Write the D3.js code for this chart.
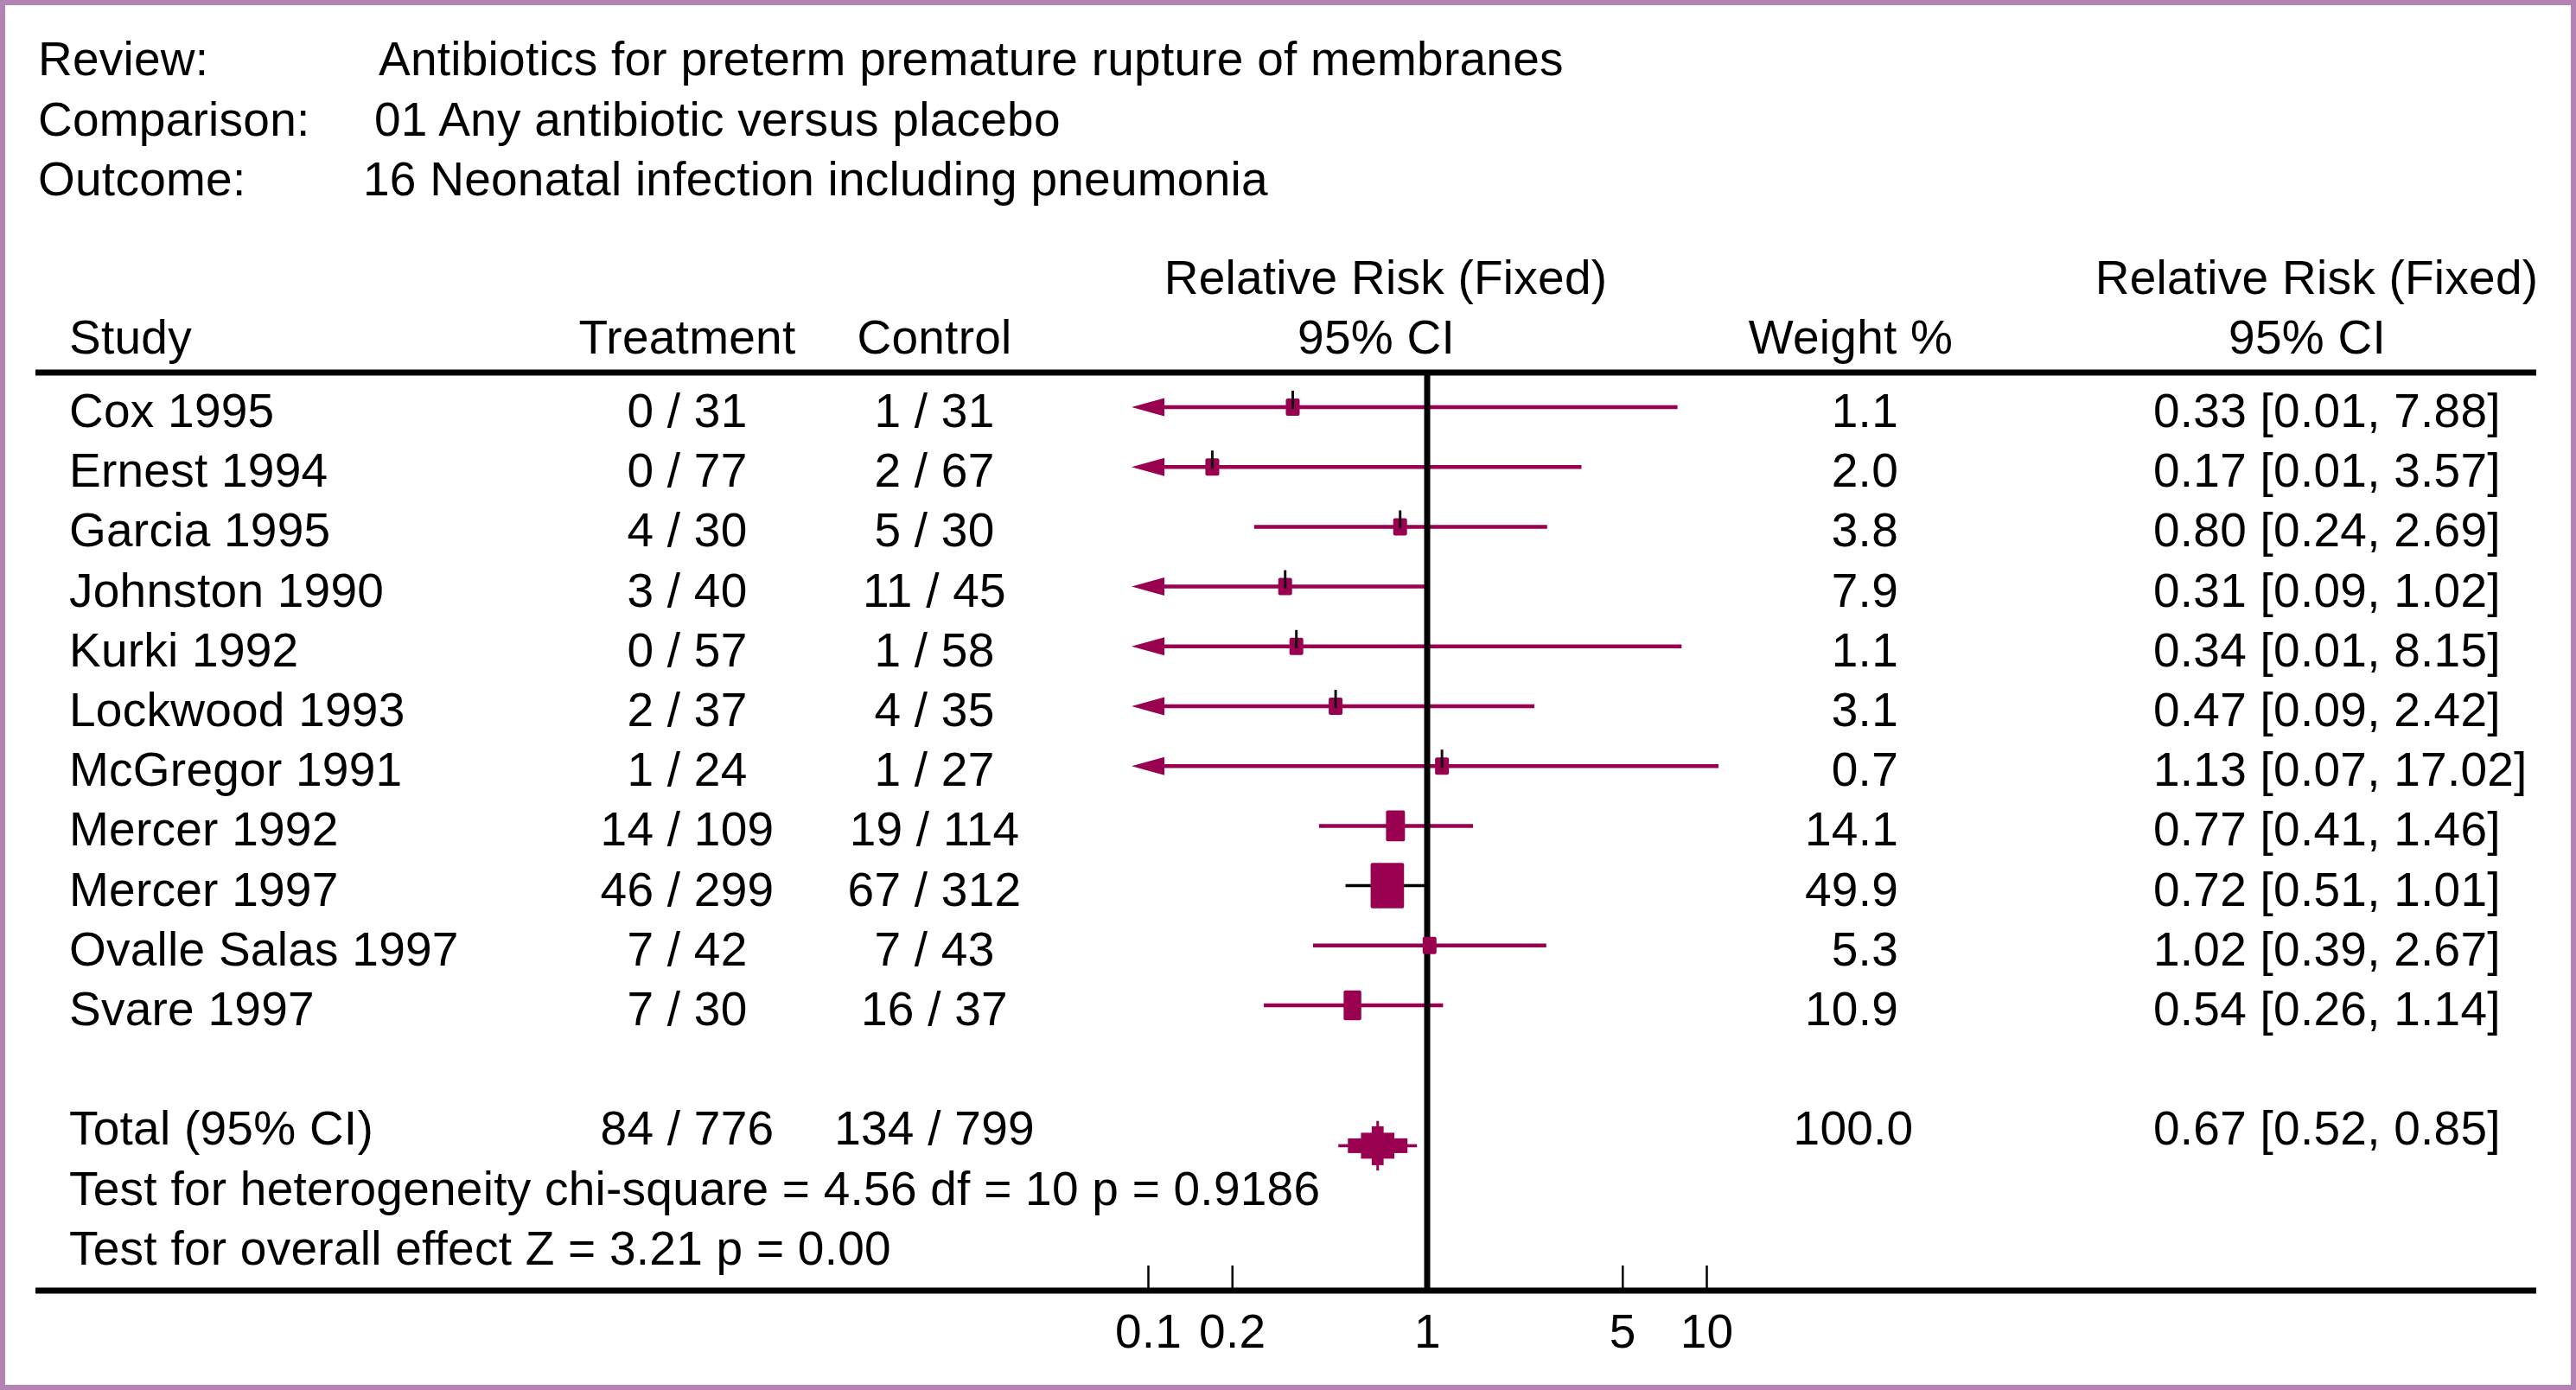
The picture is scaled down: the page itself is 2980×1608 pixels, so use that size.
<!DOCTYPE html>
<html>
<head>
<meta charset="utf-8">
<script src="https://cdn.jsdelivr.net/npm/d3@7"></script>
<style>
body { margin: 0; background: #fff; }
text { font-family: "Liberation Sans", Arial, Helvetica, sans-serif; font-size: 55px; fill: #000; letter-spacing: 0.25px; }
</style>
</head>
<body>
<script>
// header of the review
var headerLabels = ["Review:", "Comparison:", "Outcome:"];
var headerValues = ["Antibiotics for preterm premature rupture of membranes",
                    "01 Any antibiotic versus placebo",
                    "16 Neonatal infection including pneumonia"];

// one entry per trial
var studies = ["Cox 1995", "Ernest 1994", "Garcia 1995", "Johnston 1990", "Kurki 1992",
               "Lockwood 1993", "McGregor 1991", "Mercer 1992", "Mercer 1997",
               "Ovalle Salas 1997", "Svare 1997"];
var treatEvents = [0, 0, 4, 3, 0, 2, 1, 14, 46, 7, 7];
var treatTotal  = [31, 77, 30, 40, 57, 37, 24, 109, 299, 42, 30];
var ctrlEvents  = [1, 2, 5, 11, 1, 4, 1, 19, 67, 7, 16];
var ctrlTotal   = [31, 67, 30, 45, 58, 35, 27, 114, 312, 43, 37];
var weights = [1.1, 2.0, 3.8, 7.9, 1.1, 3.1, 0.7, 14.1, 49.9, 5.3, 10.9];
var rr      = [0.33, 0.17, 0.80, 0.31, 0.34, 0.47, 1.13, 0.77, 0.72, 1.02, 0.54];
var rrLow   = [0.01, 0.01, 0.24, 0.09, 0.01, 0.09, 0.07, 0.41, 0.51, 0.39, 0.26];
var rrHigh  = [7.88, 3.57, 2.69, 1.02, 8.15, 2.42, 17.02, 1.46, 1.01, 2.67, 1.14];

// pooled result
var totalLabel = "Total (95% CI)";
var totalTreat = [84, 776];
var totalCtrl = [134, 799];
var totalWeight = 100.0;
var totalRR = [0.67, 0.52, 0.85];
var testLines = ["Test for heterogeneity chi-square = 4.56 df = 10 p = 0.9186",
                 "Test for overall effect Z = 3.21 p = 0.00"];

var tickValues = [0.1, 0.2, 1, 5, 10];

var plum = "#990050";
var f2 = d3.format(".2f");
var f1 = d3.format(".1f");

var svg = d3.select("body").append("svg")
            .attr("width", 2980)
            .attr("height", 1608);

svg.append("rect")
   .attr("x", 3).attr("y", 3)
   .attr("width", 2974).attr("height", 1602)
   .attr("fill", "#fff")
   .attr("stroke", "#b384b3")
   .attr("stroke-width", 6);

var x = d3.scaleLog().domain([0.1, 10]).range([1328, 1974]);
var row = d3.scaleLinear().domain([0, 1]).range([471, 540.2]);
var boxW = d3.scaleLinear().domain([0, 8, 10, 50]).range([16, 16, 20, 38.7]).clamp(true);
var boxH = d3.scaleLinear().domain([0, 8, 10, 50]).range([20, 20, 34, 52.5]).clamp(true);

// review header
svg.selectAll(".hlab").data(headerLabels).enter().append("text")
   .attr("x", 44)
   .attr("y", function(d, i) { return 87.3 + i * 69.4; })
   .text(function(d) { return d; });

var headerX = [438, 433, 420];
svg.selectAll(".hval").data(headerValues).enter().append("text")
   .attr("x", function(d, i) { return headerX[i]; })
   .attr("y", function(d, i) { return 87.3 + i * 69.4; })
   .text(function(d) { return d; });

// column headings
var colHeads = [
  { x: 80, y: 409, a: "start", t: "Study" },
  { x: 795, y: 409, a: "middle", t: "Treatment" },
  { x: 1081, y: 409, a: "middle", t: "Control" },
  { x: 1603, y: 340, a: "middle", t: "Relative Risk (Fixed)" },
  { x: 1592, y: 409, a: "middle", t: "95% CI" },
  { x: 2141, y: 409, a: "middle", t: "Weight %" },
  { x: 2680, y: 340, a: "middle", t: "Relative Risk (Fixed)" },
  { x: 2669, y: 409, a: "middle", t: "95% CI" }
];
svg.selectAll(".chead").data(colHeads).enter().append("text")
   .attr("x", function(d) { return d.x; })
   .attr("y", function(d) { return d.y; })
   .attr("text-anchor", function(d) { return d.a; })
   .text(function(d) { return d.t; });

// rules
svg.append("line").attr("x1", 41).attr("x2", 2934).attr("y1", 431).attr("y2", 431)
   .attr("stroke", "#000").attr("stroke-width", 7);
svg.append("line").attr("x1", 41).attr("x2", 2934).attr("y1", 1493).attr("y2", 1493)
   .attr("stroke", "#000").attr("stroke-width", 7);

// study rows text
var idx = d3.range(studies.length);
function base(i) { return row(i) + 23; }

svg.selectAll(".sname").data(idx).enter().append("text")
   .attr("x", 80).attr("y", base)
   .text(function(i) { return studies[i]; });
svg.selectAll(".streat").data(idx).enter().append("text")
   .attr("x", 795).attr("y", base).attr("text-anchor", "middle")
   .text(function(i) { return treatEvents[i] + " / " + treatTotal[i]; });
svg.selectAll(".sctrl").data(idx).enter().append("text")
   .attr("x", 1081).attr("y", base).attr("text-anchor", "middle")
   .text(function(i) { return ctrlEvents[i] + " / " + ctrlTotal[i]; });
svg.selectAll(".swt").data(idx).enter().append("text")
   .attr("x", 2196).attr("y", base).attr("text-anchor", "end")
   .text(function(i) { return f1(weights[i]); });
svg.selectAll(".srr").data(idx).enter().append("text")
   .attr("x", 2491).attr("y", base)
   .text(function(i) { return f2(rr[i]) + " [" + f2(rrLow[i]) + ", " + f2(rrHigh[i]) + "]"; });

// confidence interval lines
var xMin = x(0.1), xMax = x(10);
var arrowTip = xMin - 19, arrowLen = 38;

svg.selectAll(".ci").data(idx).enter().append("line")
   .attr("x1", function(i) { return rrLow[i] < 0.1 ? arrowTip + arrowLen - 2 : x(rrLow[i]); })
   .attr("x2", function(i) { return Math.min(x(rrHigh[i]), xMax + 14); })
   .attr("y1", function(i) { return row(i); })
   .attr("y2", function(i) { return row(i); })
   .attr("stroke", function(i) { return boxW(weights[i]) > 30 ? "#000" : plum; })
   .attr("stroke-width", function(i) { return boxW(weights[i]) > 30 ? 3.5 : 4.5; });

svg.selectAll(".arrow").data(idx.filter(function(i) { return rrLow[i] < 0.1; })).enter().append("path")
   .attr("d", function(i) {
     var y = row(i);
     return "M" + arrowTip + "," + y + "L" + (arrowTip + arrowLen) + "," + (y - 10.5) +
            "L" + (arrowTip + arrowLen) + "," + (y + 10.5) + "Z";
   })
   .attr("fill", plum);

// line of no effect
svg.append("line").attr("x1", x(1)).attr("x2", x(1)).attr("y1", 431).attr("y2", 1493)
   .attr("stroke", "#000").attr("stroke-width", 7);

// weight boxes
svg.selectAll(".box").data(idx).enter().append("rect")
   .attr("x", function(i) { return x(rr[i]) - boxW(weights[i]) / 2; })
   .attr("y", function(i) { return row(i) - boxH(weights[i]) / 2; })
   .attr("width", function(i) { return boxW(weights[i]); })
   .attr("height", function(i) { return boxH(weights[i]); })
   .attr("rx", 2)
   .attr("fill", plum);

// point marks over the smallest boxes (hidden where they fall on the line of no effect)
svg.selectAll(".pt").data(idx.filter(function(i) { return weights[i] < 8 && Math.abs(x(rr[i]) - x(1)) > 6; })).enter().append("line")
   .attr("x1", function(i) { return x(rr[i]); })
   .attr("x2", function(i) { return x(rr[i]); })
   .attr("y1", function(i) { return row(i) - boxH(weights[i]) / 2 - 9; })
   .attr("y2", function(i) { return row(i) + 2; })
   .attr("stroke", "#111").attr("stroke-width", 3);

// total row
var tBase = row(12) + 23;
svg.append("text").attr("x", 80).attr("y", tBase).text(totalLabel);
svg.append("text").attr("x", 795).attr("y", tBase).attr("text-anchor", "middle")
   .text(totalTreat[0] + " / " + totalTreat[1]);
svg.append("text").attr("x", 1081).attr("y", tBase).attr("text-anchor", "middle")
   .text(totalCtrl[0] + " / " + totalCtrl[1]);
svg.append("text").attr("x", 2144).attr("y", tBase).attr("text-anchor", "middle")
   .text(f1(totalWeight));
svg.append("text").attr("x", 2491).attr("y", tBase)
   .text(f2(totalRR[0]) + " [" + f2(totalRR[1]) + ", " + f2(totalRR[2]) + "]");

// stepped diamond for the pooled estimate
var dy = tBase + 1;
var dLo = x(totalRR[1]), dHi = x(totalRR[2]);
var dMid = (dLo + dHi) / 2, dHalf = (dHi - dLo) / 2;
var steps = [
  { hw: dHalf + 11, hh: 1.8 },
  { hw: 1.5, hh: 28.7 },
  { hw: dHalf, hh: 8.5 },
  { hw: dHalf * 0.56, hh: 15 },
  { hw: dHalf * 0.2, hh: 22.5 }
];
svg.selectAll(".dstep").data(steps).enter().append("rect")
   .attr("x", function(d) { return dMid - d.hw; })
   .attr("y", function(d) { return dy - d.hh; })
   .attr("width", function(d) { return d.hw * 2; })
   .attr("height", function(d) { return d.hh * 2; })
   .attr("fill", plum);

// tests
svg.selectAll(".test").data(testLines).enter().append("text")
   .attr("x", 80)
   .attr("y", function(d, i) { return row(13 + i) + 23; })
   .text(function(d) { return d; });

// axis
var axis = d3.axisBottom(x)
             .tickValues(tickValues)
             .tickFormat(d3.format(""))
             .tickSizeInner(-26)
             .tickSizeOuter(0)
             .tickPadding(30);
var gAxis = svg.append("g").attr("transform", "translate(0,1490)").call(axis);
gAxis.select(".domain").remove();
gAxis.selectAll("line").attr("stroke", "#000").attr("stroke-width", 2.5);
gAxis.selectAll("text")
     .attr("fill", "#000")
     .style("font-family", "\"Liberation Sans\", Arial, Helvetica, sans-serif")
     .style("font-size", "55px");
gAxis.attr("font-size", null).attr("font-family", null);
</script>
</body>
</html>
